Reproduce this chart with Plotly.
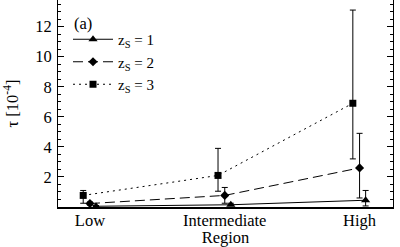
import plotly.graph_objects as go

regions = ["Low", "Intermediate", "High"]
x_base = [0, 1, 2]

tau_z1 = [0.05, 0.15, 0.45]
err_up_z1 = [0.05, 0.1, 0.65]
err_dn_z1 = [0.03, 0.05, 0.38]

tau_z2 = [0.23, 0.77, 2.6]
err_up_z2 = [0.1, 0.53, 2.3]
err_dn_z2 = [0.1, 0.52, 2.0]

tau_z3 = [0.77, 2.1, 6.9]
err_up_z3 = [0.33, 1.8, 6.2]
err_dn_z3 = [0.52, 1.05, 3.7]

offsets = {"z1": 0.045, "z2": 0.0, "z3": -0.05}

serif = "Liberation Serif, Times New Roman, serif"
fs = 16.5

fig = go.Figure()

def add(name, vals, up, dn, off, symbol, msize, dash):
    fig.add_trace(go.Scatter(
        x=[v + off for v in x_base], y=vals, name=name, mode="lines+markers",
        line=dict(color="black", width=1, dash=dash),
        marker=dict(symbol=symbol, size=msize, color="black"),
        error_y=dict(type="data", array=up, arrayminus=dn, color="black",
                     thickness=1, width=3, symmetric=False),
    ))

add("z<sub>S</sub> = 1", tau_z1, err_up_z1, err_dn_z1, offsets["z1"], "triangle-up", 8, "solid")
add("z<sub>S</sub> = 2", tau_z2, err_up_z2, err_dn_z2, offsets["z2"], "diamond", 7, "10px,5px")
add("z<sub>S</sub> = 3", tau_z3, err_up_z3, err_dn_z3, offsets["z3"], "square", 7, "2px,4px")

fig.add_annotation(text="(a)", x=(83 - 58) / 334.7, y=1 - 23 / 207,
                   xref="x domain", yref="y domain", xanchor="center", yanchor="middle",
                   showarrow=False, font=dict(family=serif, size=fs, color="black"))

fig.update_layout(
    width=400, height=247,
    margin=dict(l=58, r=7, t=0, b=40, autoexpand=False),
    paper_bgcolor="white", plot_bgcolor="white",
    font=dict(family=serif, size=fs, color="black"),
    showlegend=True,
    legend=dict(x=(68 - 58) / 334.7, y=1 - 23 / 207, xanchor="left", yanchor="top",
                bgcolor="rgba(0,0,0,0)", font=dict(family=serif, size=15),
                itemwidth=40, tracegroupgap=0),
    xaxis=dict(range=[-0.237, 2.248], tickvals=x_base, ticktext=regions,
               showline=True, linecolor="black", linewidth=2, mirror=False,
               ticks="", showgrid=False, zeroline=False, automargin=False,
               ticklabelstandoff=-3,
               title=dict(text="Region", standoff=0, font=dict(size=fs))),
    yaxis=dict(range=[0, 13.77], tickvals=[2, 4, 6, 8, 10, 12],
               showline=True, linecolor="black", linewidth=1, mirror="ticks",
               ticks="inside", ticklen=6, tickcolor="black", automargin=False,
               ticklabelstandoff=2,
               minor=dict(dtick=0.5, tick0=0, ticks="inside", ticklen=3, tickcolor="black"),
               showgrid=False, zeroline=False,
               title=dict(text="τ [10<sup>-4</sup>]", standoff=12, font=dict(size=fs))),
)

fig.write_html("out.html", config={"displayModeBar": False},
               post_script="document.body.style.margin='0';")
